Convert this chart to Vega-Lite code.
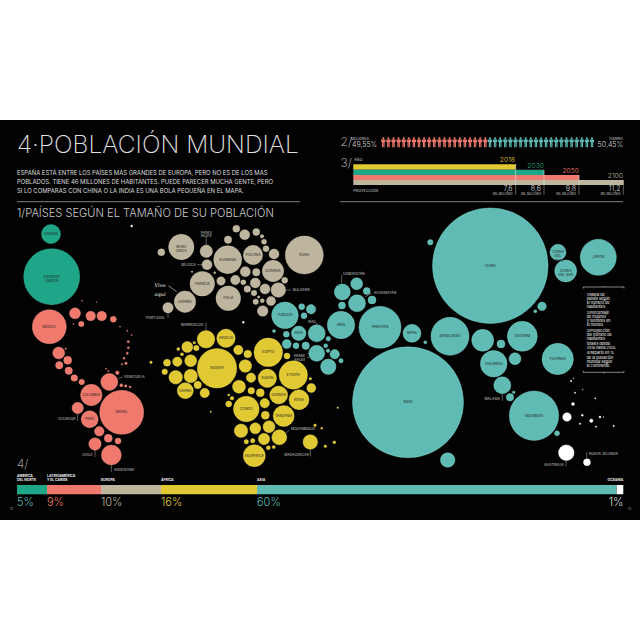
{"$schema":"https://vega.github.io/schema/vega-lite/v6.json","width":640,"height":640,"padding":0,"autosize":{"type":"fit","contains":"padding"},"background":"#ffffff","config":{"view":{"stroke":null},"text":{"font":"Inter"}},
"datasets":{"countries":[
{"x":51,"y":234,"pop":39.7,"region":"NA","label":"CANADÁ"},{"x":51.7,"y":276.7,"pop":345,"region":"NA","label":"ESTADOS|UNIDOS"},
{"x":49.3,"y":326.7,"pop":127,"region":"LA","label":"MÉXICO"},{"x":75,"y":313.3,"pop":13.3,"region":"LA"},{"x":90.7,"y":316,"pop":10.1,"region":"LA"},{"x":101.7,"y":316,"pop":10.1,"region":"LA"},{"x":113.3,"y":319.3,"pop":3.96,"region":"LA"},{"x":81.3,"y":324,"pop":3.2,"region":"LA"},{"x":73.3,"y":324,"pop":0.11,"region":"LA"},{"x":120,"y":326.7,"pop":0.11,"region":"LA"},{"x":127.3,"y":330.7,"pop":0.16,"region":"LA"},{"x":131.7,"y":335,"pop":0.16,"region":"LA"},{"x":128.3,"y":341.7,"pop":0.53,"region":"LA"},{"x":128.3,"y":347.7,"pop":0.44,"region":"LA"},{"x":127.3,"y":353.3,"pop":0.53,"region":"LA"},{"x":124,"y":358.3,"pop":0.44,"region":"LA"},{"x":126,"y":363.3,"pop":0.63,"region":"LA"},{"x":122,"y":364.3,"pop":0.28,"region":"LA"},{"x":65.7,"y":348.7,"pop":0.28,"region":"LA"},{"x":106,"y":368.7,"pop":0.16,"region":"LA"},{"x":108.3,"y":371,"pop":0.22,"region":"LA"},{"x":117.3,"y":372.7,"pop":1.43,"region":"LA"},{"x":82,"y":300.7,"pop":0.11,"region":"LA"},{"x":96.7,"y":302,"pop":0.07,"region":"LA"},
{"x":58.7,"y":353,"pop":15.8,"region":"LA"},{"x":67.7,"y":360.3,"pop":7,"region":"LA"},{"x":59.3,"y":365.3,"pop":6,"region":"LA"},{"x":68.7,"y":370.7,"pop":6,"region":"LA"},{"x":74.3,"y":378,"pop":4.8,"region":"LA"},{"x":81.7,"y":382,"pop":3.45,"region":"LA"},{"x":109.3,"y":382,"pop":31.8,"region":"LA"},{"x":91.3,"y":395,"pop":50.4,"region":"LA","label":"COLOMBIA"},{"x":121.7,"y":412.3,"pop":213,"region":"LA","label":"BRASIL"},{"x":77.7,"y":408,"pop":14.3,"region":"LA"},{"x":89.7,"y":419.3,"pop":31.8,"region":"LA","label":"PERÚ"},{"x":99.3,"y":431.3,"pop":10.1,"region":"LA"},{"x":108.3,"y":438.3,"pop":7,"region":"LA"},{"x":118,"y":441,"pop":3.96,"region":"LA"},{"x":95,"y":444,"pop":16.9,"region":"LA"},{"x":111.3,"y":455,"pop":44,"region":"LA"},{"x":121.3,"y":385.3,"pop":1,"region":"LA"},{"x":125.7,"y":386,"pop":0.63,"region":"LA"},{"x":130,"y":387,"pop":0.44,"region":"LA"},
{"x":181.3,"y":247,"pop":71,"region":"EU","label":"REINO|UNIDO"},{"x":161.3,"y":252.3,"pop":5.4,"region":"EU"},{"x":206.3,"y":251.3,"pop":16.9,"region":"EU"},{"x":207,"y":264.7,"pop":11,"region":"EU"},{"x":227.7,"y":259.7,"pop":86,"region":"EU","label":"ALEMANIA"},{"x":253,"y":255,"pop":41.4,"region":"EU","label":"POLONIA"},{"x":304.3,"y":255,"pop":159,"region":"EU","label":"RUSIA"},{"x":228,"y":239.7,"pop":6,"region":"EU"},{"x":236.3,"y":228.7,"pop":5.4,"region":"EU"},{"x":244.7,"y":234.7,"pop":11,"region":"EU"},{"x":256.3,"y":232,"pop":5.4,"region":"EU"},{"x":262,"y":236.3,"pop":1.27,"region":"EU"},{"x":264,"y":241.7,"pop":2.75,"region":"EU"},{"x":266,"y":248.7,"pop":3.96,"region":"EU"},{"x":274,"y":254,"pop":11,"region":"EU"},{"x":273,"y":271,"pop":50.4,"region":"EU","label":"UCRANIA"},{"x":245.3,"y":271.7,"pop":11,"region":"EU"},{"x":256.3,"y":272.3,"pop":6,"region":"EU"},{"x":202.3,"y":283.7,"pop":66.6,"region":"EU","label":"FRANCIA"},{"x":228.3,"y":298.3,"pop":66.6,"region":"EU","label":"ITALIA"},{"x":185,"y":301.7,"pop":50.4,"region":"EU","label":"ESPAÑA"},{"x":168,"y":307.7,"pop":11.9,"region":"EU"},{"x":221,"y":281,"pop":7.76,"region":"EU"},{"x":235.3,"y":280,"pop":9.7,"region":"EU"},{"x":243.3,"y":282.3,"pop":2.75,"region":"EU"},{"x":255.3,"y":283,"pop":11,"region":"EU"},{"x":284.7,"y":280.3,"pop":3.96,"region":"EU"},{"x":265,"y":289,"pop":11,"region":"EU"},{"x":278.3,"y":290,"pop":23.4,"region":"EU"},{"x":247.3,"y":289,"pop":4.8,"region":"EU"},{"x":254,"y":293,"pop":3.45,"region":"EU"},{"x":258.7,"y":297,"pop":0.63,"region":"EU"},{"x":255.7,"y":301.7,"pop":3.2,"region":"EU"},{"x":262.3,"y":300.7,"pop":1.76,"region":"EU"},{"x":271,"y":301,"pop":8.9,"region":"EU"},{"x":262.7,"y":311,"pop":12.4,"region":"EU"},{"x":192,"y":271.7,"pop":0.28,"region":"EU"},{"x":214.7,"y":272.7,"pop":0.44,"region":"EU"},
{"x":243.3,"y":322.3,"pop":0.44,"region":"OC"},{"x":131.7,"y":226,"pop":0.44,"region":"OC"},
{"x":285,"y":315.3,"pop":78,"region":"AS","label":"TURQUÍA"},{"x":301.7,"y":306.7,"pop":3.96,"region":"AS"},{"x":311,"y":309.3,"pop":9.7,"region":"AS"},{"x":304,"y":315.7,"pop":3.96,"region":"AS"},{"x":274,"y":331,"pop":1,"region":"AS"},{"x":316.7,"y":333.3,"pop":31.8,"region":"AS"},{"x":298.7,"y":333.3,"pop":23.4,"region":"AS","label":"SIRIA"},{"x":286.3,"y":334.3,"pop":3.96,"region":"AS"},{"x":286.7,"y":344,"pop":8.9,"region":"AS"},{"x":296,"y":345.7,"pop":3.96,"region":"AS"},{"x":305.7,"y":345.7,"pop":6,"region":"AS"},{"x":316.7,"y":353.3,"pop":28.2,"region":"AS"},
{"x":341,"y":325,"pop":82.6,"region":"AS","label":"IRÁN"},{"x":380,"y":327.3,"pop":194,"region":"AS","label":"PAKISTÁN"},{"x":412,"y":333.3,"pop":35.6,"region":"AS","label":"NEPAL"},{"x":450,"y":336.3,"pop":159,"region":"AS","label":"BANGLADÉS"},{"x":482.7,"y":340.3,"pop":53,"region":"AS"},{"x":501,"y":344,"pop":7,"region":"AS"},{"x":522.3,"y":336.3,"pop":99,"region":"AS","label":"VIETNAM"},{"x":493.7,"y":363.7,"pop":78,"region":"AS","label":"TAILANDIA"},{"x":515,"y":358.7,"pop":15.8,"region":"AS"},{"x":557.7,"y":359,"pop":108,"region":"AS","label":"FILIPINAS"},{"x":408,"y":402.3,"pop":1355,"region":"AS","label":"INDIA"},{"x":447.7,"y":460,"pop":23.4,"region":"AS"},{"x":502.3,"y":385.3,"pop":31.8,"region":"AS"},{"x":510,"y":397.3,"pop":6,"region":"AS"},{"x":513.7,"y":392.3,"pop":0.74,"region":"AS"},{"x":534,"y":415.7,"pop":268,"region":"AS","label":"INDONESIA"},{"x":557,"y":433.3,"pop":2.75,"region":"AS"},{"x":425.3,"y":342.3,"pop":1,"region":"AS"},{"x":334.7,"y":354.3,"pop":9.7,"region":"AS"},{"x":341,"y":360.7,"pop":2.13,"region":"AS"},{"x":328.3,"y":366.7,"pop":26,"region":"AS"},{"x":328.3,"y":338.7,"pop":2.33,"region":"AS"},{"x":325.7,"y":345.7,"pop":1.76,"region":"AS"},{"x":328,"y":350.7,"pop":1.43,"region":"AS"},{"x":342,"y":305.5,"pop":5.4,"region":"AS"},{"x":357,"y":303.3,"pop":31.8,"region":"AS"},{"x":372,"y":300,"pop":7,"region":"AS"},{"x":342.3,"y":292,"pop":28.2,"region":"AS"},{"x":356.7,"y":283.7,"pop":15.8,"region":"AS"},{"x":366.7,"y":291,"pop":5.4,"region":"AS"},{"x":490.3,"y":265.7,"pop":1470,"region":"AS","label":"CHINA"},{"x":430.3,"y":242.3,"pop":3.2,"region":"AS"},{"x":558,"y":252.3,"pop":28.2,"region":"AS","label":"COREA|DEL|NORTE"},{"x":565.7,"y":271,"pop":53,"region":"AS","label":"COREA|DEL SUR"},{"x":598.3,"y":257.3,"pop":143,"region":"AS","label":"JAPÓN"},{"x":542,"y":306.3,"pop":8.1,"region":"AS"},{"x":535.3,"y":311.3,"pop":1,"region":"AS"},
{"x":566.3,"y":452.7,"pop":26.8,"region":"OC"},{"x":587,"y":462.3,"pop":5.4,"region":"OC"},{"x":567,"y":417,"pop":8.1,"region":"OC"},{"x":573,"y":404,"pop":1,"region":"OC"},{"x":591.3,"y":420.7,"pop":1.27,"region":"OC"},{"x":582.3,"y":415.3,"pop":0.44,"region":"OC"},{"x":600,"y":417,"pop":0.44,"region":"OC"},{"x":580,"y":423.7,"pop":0.28,"region":"OC"},{"x":596,"y":426.7,"pop":0.22,"region":"OC"},{"x":613.7,"y":426,"pop":0.28,"region":"OC"},{"x":595.3,"y":398.3,"pop":0.16,"region":"OC"},{"x":575,"y":392.7,"pop":0.22,"region":"OC"},{"x":571,"y":381,"pop":0.28,"region":"OC"},{"x":573.7,"y":378.3,"pop":0.07,"region":"OC"},{"x":582.7,"y":389.7,"pop":0.07,"region":"OC"},{"x":603.3,"y":417,"pop":0.07,"region":"OC"},
{"x":337.7,"y":407.7,"pop":0.28,"region":"AF"},{"x":321.7,"y":428.3,"pop":0.44,"region":"AF"},{"x":325.3,"y":446.3,"pop":0.74,"region":"AF"},{"x":334.3,"y":442.3,"pop":0.86,"region":"AF"},
{"x":206,"y":339.3,"pop":34,"region":"AF"},{"x":226,"y":338.3,"pop":37.2,"region":"AF","label":"ARGELIA"},{"x":187.3,"y":347,"pop":13.3,"region":"AF"},{"x":194.3,"y":342.7,"pop":0.63,"region":"AF"},{"x":196.3,"y":348,"pop":3.2,"region":"AF"},{"x":178.3,"y":349,"pop":1,"region":"AF"},{"x":182,"y":354.3,"pop":1,"region":"AF"},{"x":217,"y":368.3,"pop":171,"region":"AF","label":"NIGERIA"},{"x":151,"y":362.3,"pop":0.63,"region":"AF"},{"x":167,"y":362.7,"pop":5.4,"region":"AF"},{"x":177.3,"y":361.7,"pop":9.7,"region":"AF"},{"x":190.7,"y":360.7,"pop":15.8,"region":"AF"},{"x":164.7,"y":371.7,"pop":3.45,"region":"AF"},{"x":175.7,"y":377.3,"pop":20.3,"region":"AF"},{"x":190.7,"y":376,"pop":19.8,"region":"AF"},{"x":185.3,"y":390.7,"pop":28.2,"region":"AF","label":"GHANA"},{"x":197.7,"y":385,"pop":6,"region":"AF"},{"x":204.7,"y":393,"pop":9.7,"region":"AF"},{"x":238.3,"y":350,"pop":9.7,"region":"AF"},{"x":247.7,"y":354,"pop":6.35,"region":"AF"},{"x":268.3,"y":352.3,"pop":90,"region":"AF","label":"EGIPTO"},{"x":287,"y":356,"pop":3.96,"region":"AF"},{"x":245.3,"y":366,"pop":17.5,"region":"AF"},{"x":251,"y":377.7,"pop":9.7,"region":"AF"},{"x":267.3,"y":378.3,"pop":37.2,"region":"AF","label":"SUDÁN"},{"x":293.3,"y":375,"pop":88.7,"region":"AF","label":"ETIOPÍA"},{"x":310.3,"y":378.7,"pop":0.74,"region":"AF"},{"x":311.3,"y":388,"pop":8.9,"region":"AF"},{"x":239,"y":386.7,"pop":18.6,"region":"AF"},{"x":251.3,"y":390.7,"pop":4.8,"region":"AF"},{"x":260.3,"y":392.7,"pop":7,"region":"AF"},{"x":278.7,"y":395,"pop":35.6,"region":"AF","label":"UGANDA"},{"x":299,"y":399.7,"pop":44,"region":"AF","label":"KENIA"},{"x":228.7,"y":395,"pop":0.53,"region":"AF"},{"x":232,"y":398.3,"pop":1.43,"region":"AF"},{"x":228.7,"y":404,"pop":3.96,"region":"AF"},{"x":246.3,"y":409,"pop":72,"region":"AF","label":"CONGO"},{"x":264.7,"y":403.3,"pop":9.7,"region":"AF"},{"x":265.3,"y":415.3,"pop":7,"region":"AF"},{"x":283.7,"y":416,"pop":48.5,"region":"AF","label":"TANZANIA"},{"x":210.7,"y":411.7,"pop":0.22,"region":"AF"},{"x":241,"y":430.7,"pop":20.3,"region":"AF"},{"x":255.3,"y":428.3,"pop":13.3,"region":"AF"},{"x":269,"y":426.7,"pop":15.8,"region":"AF"},{"x":279.3,"y":437.3,"pop":24.8,"region":"AF"},{"x":264,"y":439,"pop":14.3,"region":"AF"},{"x":246.3,"y":441.7,"pop":2.13,"region":"AF"},{"x":252.7,"y":440.7,"pop":2.13,"region":"AF"},{"x":268.3,"y":447.7,"pop":1.76,"region":"AF"},{"x":273.7,"y":447,"pop":1.13,"region":"AF"},{"x":254.3,"y":455.7,"pop":53,"region":"AF","label":"SUDÁFRICA"},{"x":310.3,"y":442,"pop":23.4,"region":"AF"},{"x":315,"y":425.3,"pop":0.74,"region":"AF"}
]},
"encoding":{"x":{"field":"x","type":"quantitative","scale":{"domain":[0,640],"nice":false,"zero":false},"axis":null},"y":{"field":"y","type":"quantitative","scale":{"domain":[0,640],"nice":false,"zero":false,"reverse":true},"axis":null}},
"layer":[
{"data":{"values":[{"x":0,"x2":640,"y":120,"y2":520}]},"mark":{"type":"rect","color":"#020202"},"encoding":{"x2":{"field":"x2"},"y2":{"field":"y2"}}},
{"data":{"values":[{"x":353.3,"x2":515.7,"y":164.3,"y2":169.7,"region":"AF"},{"x":353.3,"x2":544,"y":169.7,"y2":175,"region":"NA"},{"x":353.3,"x2":579,"y":175,"y2":180,"region":"LA"},{"x":353.3,"x2":623.3,"y":180,"y2":185,"region":"EU"},{"x":17,"x2":47,"y":485,"y2":494.3,"region":"NA"},{"x":47,"x2":101,"y":485,"y2":494.3,"region":"LA"},{"x":101,"x2":161,"y":485,"y2":494.3,"region":"EU"},{"x":161,"x2":257,"y":485,"y2":494.3,"region":"AF"},{"x":257,"x2":616.7,"y":485,"y2":494.3,"region":"AS"},{"x":616.7,"x2":623.3,"y":485,"y2":494.3,"region":"OC"}]},"mark":{"type":"rect"},"encoding":{"x2":{"field":"x2"},"y2":{"field":"y2"},"color":{"field":"region","type":"nominal","legend":null,"scale":{"domain":["NA","LA","EU","AF","AS","OC"],"range":["#1fa588","#ef796c","#bdb59d","#e0c933","#5fbbb3","#ffffff"]}}}},
{"data":{"values":[{"x":17,"x2":300,"y":201.7,"y2":201.7},{"x":340,"x2":623,"y":201.7,"y2":201.7}]},"mark":{"type":"rule","color":"#666666","strokeWidth":1.3},"encoding":{"x2":{"field":"x2"},"y2":{"field":"y2"}}},
{"data":{"values":[{"x":515.7,"x2":515.7,"y":164,"y2":185},{"x":544,"x2":544,"y":170,"y2":185},{"x":579,"x2":579,"y":175,"y2":185},{"x":623.3,"x2":623.3,"y":180,"y2":185},{"x":583.3,"x2":624,"y":287,"y2":287},{"x":583.3,"x2":624,"y":372.3,"y2":372.3},{"x":583.3,"x2":583.3,"y":287,"y2":288.5},{"x":624,"x2":624,"y":287,"y2":288.5},{"x":583.3,"x2":583.3,"y":372.3,"y2":370.8},{"x":624,"x2":624,"y":372.3,"y2":370.8},{"x":603.7,"x2":603.7,"y":286,"y2":287},{"x":603.7,"x2":603.7,"y":372.3,"y2":373.5},{"x":168.3,"x2":176.7,"y":285.7,"y2":291.7}]},"mark":{"type":"rule","color":"#dddddd","strokeWidth":0.6},"encoding":{"x2":{"field":"x2"},"y2":{"field":"y2"}}},
{"data":{"values":[{"x":515.7,"x2":515.7,"y":185,"y2":194.7},{"x":544,"x2":544,"y":185,"y2":194.7},{"x":579,"x2":579,"y":185,"y2":194.7},{"x":623.3,"x2":623.3,"y":185,"y2":194.7},{"x":341.7,"x2":341.7,"y":275,"y2":283.5},{"x":365,"x2":371.7,"y":296.7,"y2":293.3},{"x":206.3,"x2":206.3,"y":236.7,"y2":245},{"x":197.3,"x2":202,"y":264.7,"y2":264.7},{"x":286,"x2":291,"y":290,"y2":290},{"x":168,"x2":168,"y":313,"y2":318},{"x":206,"x2":206,"y":323,"y2":330},{"x":118.3,"x2":122.7,"y":378.7,"y2":376.7},{"x":77.7,"x2":77.7,"y":414,"y2":421},{"x":95,"x2":95,"y":450,"y2":457},{"x":111.3,"x2":111.3,"y":465,"y2":472},{"x":286,"x2":289.5,"y":433,"y2":430},{"x":310.3,"x2":310.3,"y":449.5,"y2":456.5},{"x":316.7,"x2":316.7,"y":322.5,"y2":325},{"x":307,"x2":309,"y":357.5,"y2":357.5},{"x":502.3,"x2":502.3,"y":394,"y2":401},{"x":566,"x2":566,"y":460.5,"y2":466.5},{"x":586.7,"x2":586.7,"y":452,"y2":458}]},"mark":{"type":"rule","color":"#999999","strokeWidth":0.6},"encoding":{"x2":{"field":"x2"},"y2":{"field":"y2"}}},
{"data":{"values":[{"x":383.3,"y":142.3,"region":"LA"},{"x":388.4,"y":142.3,"region":"LA"},{"x":393.5,"y":142.3,"region":"LA"},{"x":398.6,"y":142.3,"region":"LA"},{"x":403.7,"y":142.3,"region":"LA"},{"x":408.8,"y":142.3,"region":"LA"},{"x":413.9,"y":142.3,"region":"LA"},{"x":419,"y":142.3,"region":"LA"},{"x":424.1,"y":142.3,"region":"LA"},{"x":429.2,"y":142.3,"region":"LA"},{"x":434.3,"y":142.3,"region":"LA"},{"x":439.4,"y":142.3,"region":"LA"},{"x":444.5,"y":142.3,"region":"LA"},{"x":449.6,"y":142.3,"region":"LA"},{"x":454.7,"y":142.3,"region":"LA"},{"x":459.8,"y":142.3,"region":"LA"},{"x":464.9,"y":142.3,"region":"LA"},{"x":470,"y":142.3,"region":"LA"},{"x":475.1,"y":142.3,"region":"LA"},{"x":480.2,"y":142.3,"region":"LA"},{"x":485.3,"y":142.3,"region":"LA"},{"x":490,"y":142.3,"region":"AS"},{"x":495.1,"y":142.3,"region":"AS"},{"x":500.2,"y":142.3,"region":"AS"},{"x":505.3,"y":142.3,"region":"AS"},{"x":510.4,"y":142.3,"region":"AS"},{"x":515.5,"y":142.3,"region":"AS"},{"x":520.6,"y":142.3,"region":"AS"},{"x":525.7,"y":142.3,"region":"AS"},{"x":530.8,"y":142.3,"region":"AS"},{"x":535.9,"y":142.3,"region":"AS"},{"x":541,"y":142.3,"region":"AS"},{"x":546.1,"y":142.3,"region":"AS"},{"x":551.2,"y":142.3,"region":"AS"},{"x":556.3,"y":142.3,"region":"AS"},{"x":561.4,"y":142.3,"region":"AS"},{"x":566.5,"y":142.3,"region":"AS"},{"x":571.6,"y":142.3,"region":"AS"},{"x":576.7,"y":142.3,"region":"AS"},{"x":581.8,"y":142.3,"region":"AS"},{"x":586.9,"y":142.3,"region":"AS"},{"x":592,"y":142.3,"region":"AS"}]},"mark":{"type":"point","filled":true,"opacity":1,"size":100,"shape":"M-.2,-.8a.2,.2 0 1,0 .4,0a.2,.2 0 1,0 -.4,0ZM-.42,-.55H.42V-.05H.25V1H.03V.1H-.03V1H-.25V-.05H-.42Z"},"encoding":{"color":{"field":"region","type":"nominal","legend":null}}},
{"data":{"name":"countries"},"mark":{"type":"circle","opacity":1,"strokeWidth":0.4},"encoding":{"size":{"field":"pop","type":"quantitative","legend":null,"scale":{"domain":[0,1000],"range":[0,9091]}},"color":{"field":"region","type":"nominal","legend":null},"stroke":{"field":"region","type":"nominal","legend":null,"scale":{"domain":["NA","LA","EU","AF","AS","OC"],"range":["#35c4a4","#f79b90","#d8d2bd","#f5e155","#86dcd4","#ffffff"]}}}},
{"data":{"name":"countries"},"transform":[{"filter":"datum.label"}],"mark":{"type":"text","fontSize":3.4,"color":"#222222","lineBreak":"|","lineHeight":4.2,"align":"center","baseline":"middle"},"encoding":{"text":{"field":"label"}}},
{"data":{"values":[{"x":343,"y":273.5,"t":"UZBEKISTÁN"},{"x":374,"y":292.5,"t":"AFGANISTÁN"},{"x":292.7,"y":290,"t":"BULGARIA"},{"x":124,"y":376.7,"t":"VENEZUELA"},{"x":114,"y":470,"t":"ARGENTINA"},{"x":291,"y":429,"t":"MOZAMBIQUE"},{"x":589,"y":453.7,"t":"NUEVA ZELANDA"}]},"mark":{"type":"text","fontSize":3.5,"color":"#cccccc","align":"left","baseline":"middle"},"encoding":{"text":{"field":"t"}}},
{"data":{"values":[{"x":196,"y":264.7,"t":"BÉLGICA"},{"x":165,"y":318,"t":"PORTUGAL"},{"x":203.3,"y":325.3,"t":"MARRUECOS"},{"x":75.5,"y":419,"t":"ECUADOR"},{"x":92.5,"y":455.3,"t":"CHILE"},{"x":309,"y":455.3,"t":"MADAGASCAR"},{"x":305,"y":355.7,"t":"ÁRABE|SAUDÍ"},{"x":500,"y":398.7,"t":"MALASIA"},{"x":563.7,"y":465,"t":"AUSTRALIA"}]},"mark":{"type":"text","fontSize":3.5,"color":"#cccccc","align":"right","baseline":"middle","lineBreak":"|","lineHeight":4},"encoding":{"text":{"field":"t"}}},
{"data":{"values":[{"x":206.3,"y":232.7,"t":"PAÍSES|BAJOS"},{"x":311.7,"y":321.7,"t":"IRAQ"}]},"mark":{"type":"text","fontSize":3.2,"color":"#cccccc","align":"center","baseline":"middle","lineBreak":"|","lineHeight":3.6},"encoding":{"text":{"field":"t"}}},
{"data":{"values":[{"x":160,"y":285,"t":"Vivo|aquí"}]},"mark":{"type":"text","font":"DejaVu Serif","fontStyle":"italic","fontSize":5,"color":"#ffffff","align":"center","baseline":"middle","lineBreak":"|","lineHeight":9},"encoding":{"text":{"field":"t"}}},
{"data":{"values":[{"x":17,"y":153.3,"t":"4·POBLACIÓN MUNDIAL"}]},"mark":{"type":"text","fontSize":24.6,"fontWeight":200,"color":"#e0e0e0","align":"left","baseline":"alphabetic"},"encoding":{"text":{"field":"t"}}},
{"data":{"values":[{"x":17,"y":175.3,"t":"ESPAÑA ESTÁ ENTRE LOS PAÍSES MÁS GRANDES DE EUROPA, PERO NO ES DE LOS MÁS"},{"x":17,"y":184,"t":"POBLADOS. TIENE 46 MILLONES DE HABITANTES. PUEDE PARECER MUCHA GENTE, PERO"},{"x":17,"y":192.8,"t":"SI LO COMPARAS CON CHINA O LA INDIA ES UNA BOLA PEQUEÑA EN EL MAPA."}]},"mark":{"type":"text","fontSize":5.9,"color":"#dddddd","align":"left","baseline":"alphabetic"},"encoding":{"text":{"field":"t"}}},
{"data":{"values":[{"x":17,"y":217.3,"t":"1/PAÍSES SEGÚN EL TAMAÑO DE SU POBLACIÓN"}]},"mark":{"type":"text","fontSize":11.1,"fontWeight":300,"color":"#cccccc","align":"left","baseline":"alphabetic"},"encoding":{"text":{"field":"t"}}},
{"data":{"values":[{"x":340.5,"y":146,"t":"2/"},{"x":340.5,"y":167,"t":"3/"},{"x":17,"y":468,"t":"4/"}]},"mark":{"type":"text","fontSize":12,"fontWeight":200,"color":"#cccccc","align":"left","baseline":"alphabetic"},"encoding":{"text":{"field":"t"}}},
{"data":{"values":[{"x":352,"y":146.5,"t":"49,55%"}]},"mark":{"type":"text","fontSize":7,"fontWeight":300,"color":"#dddddd","align":"left","baseline":"alphabetic"},"encoding":{"text":{"field":"t"}}},
{"data":{"values":[{"x":623,"y":146.5,"t":"50,45%"},{"x":512.5,"y":191,"t":"7,6"},{"x":541,"y":191,"t":"8,6"},{"x":576,"y":191,"t":"9,8"},{"x":620.5,"y":191,"t":"11,2"}]},"mark":{"type":"text","fontSize":7,"fontWeight":300,"color":"#dddddd","align":"right","baseline":"alphabetic"},"encoding":{"text":{"field":"t"}}},
{"data":{"values":[{"x":351,"y":139.5,"t":"MUJERES"},{"x":354,"y":161,"t":"AÑO"},{"x":353.3,"y":192.3,"t":"PROYECCIÓN"}]},"mark":{"type":"text","fontSize":3.8,"color":"#cccccc","align":"left","baseline":"alphabetic"},"encoding":{"text":{"field":"t"}}},
{"data":{"values":[{"x":623,"y":139.5,"t":"HOMBRES"},{"x":512.5,"y":194.7,"t":"MIL MILLONES"},{"x":541,"y":194.7,"t":"MIL MILLONES"},{"x":576,"y":194.7,"t":"MIL MILLONES"},{"x":620.5,"y":194.7,"t":"MIL MILLONES"}]},"mark":{"type":"text","fontSize":2.8,"color":"#cccccc","align":"right","baseline":"alphabetic"},"encoding":{"text":{"field":"t"}}},
{"data":{"values":[{"x":515,"y":161.7,"t":"2018","region":"AF"},{"x":544,"y":168,"t":"2030","region":"NA"},{"x":579,"y":173.3,"t":"2050","region":"LA"},{"x":623,"y":178.3,"t":"2100","region":"EU"}]},"mark":{"type":"text","fontSize":6.8,"fontWeight":300,"align":"right","baseline":"alphabetic"},"encoding":{"text":{"field":"t"},"color":{"field":"region","type":"nominal","legend":null}}},
{"data":{"values":[{"x":17,"y":477.2,"t":"AMÉRICA|DEL NORTE"},{"x":47,"y":477.2,"t":"LATINOAMÉRICA|Y EL CARIBE"},{"x":101,"y":481,"t":"EUROPA"},{"x":161,"y":481,"t":"ÁFRICA"},{"x":257,"y":481,"t":"ASIA"}]},"mark":{"type":"text","fontSize":3.4,"fontWeight":700,"color":"#eeeeee","align":"left","baseline":"alphabetic","lineBreak":"|","lineHeight":3.9},"encoding":{"text":{"field":"t"}}},
{"data":{"values":[{"x":623.3,"y":481,"t":"OCEANÍA"}]},"mark":{"type":"text","fontSize":3.4,"fontWeight":700,"color":"#eeeeee","align":"right","baseline":"alphabetic"},"encoding":{"text":{"field":"t"}}},
{"data":{"values":[{"x":17,"y":506,"t":"5%","region":"AS"},{"x":47,"y":506,"t":"9%","region":"LA"},{"x":101,"y":506,"t":"10%","region":"EU"},{"x":161,"y":506,"t":"16%","region":"AF"},{"x":257,"y":506,"t":"60%","region":"AS"}]},"mark":{"type":"text","fontSize":11,"fontWeight":300,"align":"left","baseline":"alphabetic"},"encoding":{"text":{"field":"t"},"color":{"field":"region","type":"nominal","legend":null}}},
{"data":{"values":[{"x":623.3,"y":506,"t":"1%"}]},"mark":{"type":"text","fontSize":11,"fontWeight":300,"color":"#dddddd","align":"right","baseline":"alphabetic"},"encoding":{"text":{"field":"t"}}},
{"data":{"values":[{"x":10,"y":509.5,"t":"12"},{"x":628,"y":509.5,"t":"13"}]},"mark":{"type":"text","fontSize":3,"color":"#bbbbbb","align":"left","baseline":"alphabetic"},"encoding":{"text":{"field":"t"}}},
{"data":{"values":[{"x":586.7,"y":294.5,"t":"1/Mapa de|países según|el número de|habitantes."},{"x":586.7,"y":312.5,"t":"2/Porcentaje|de mujeres|y hombres en|el mundo."},{"x":586.7,"y":330.7,"t":"3/Proyección|del número de|habitantes|totales desde|2018 hasta 2100."},{"x":586.7,"y":353.3,"t":"4/Reparto en %|de la población|mundial según|el continente."}]},"mark":{"type":"text","fontSize":3.7,"color":"#ffffff","align":"left","baseline":"middle","lineBreak":"|","lineHeight":4.3},"encoding":{"text":{"field":"t"}}}
]}
